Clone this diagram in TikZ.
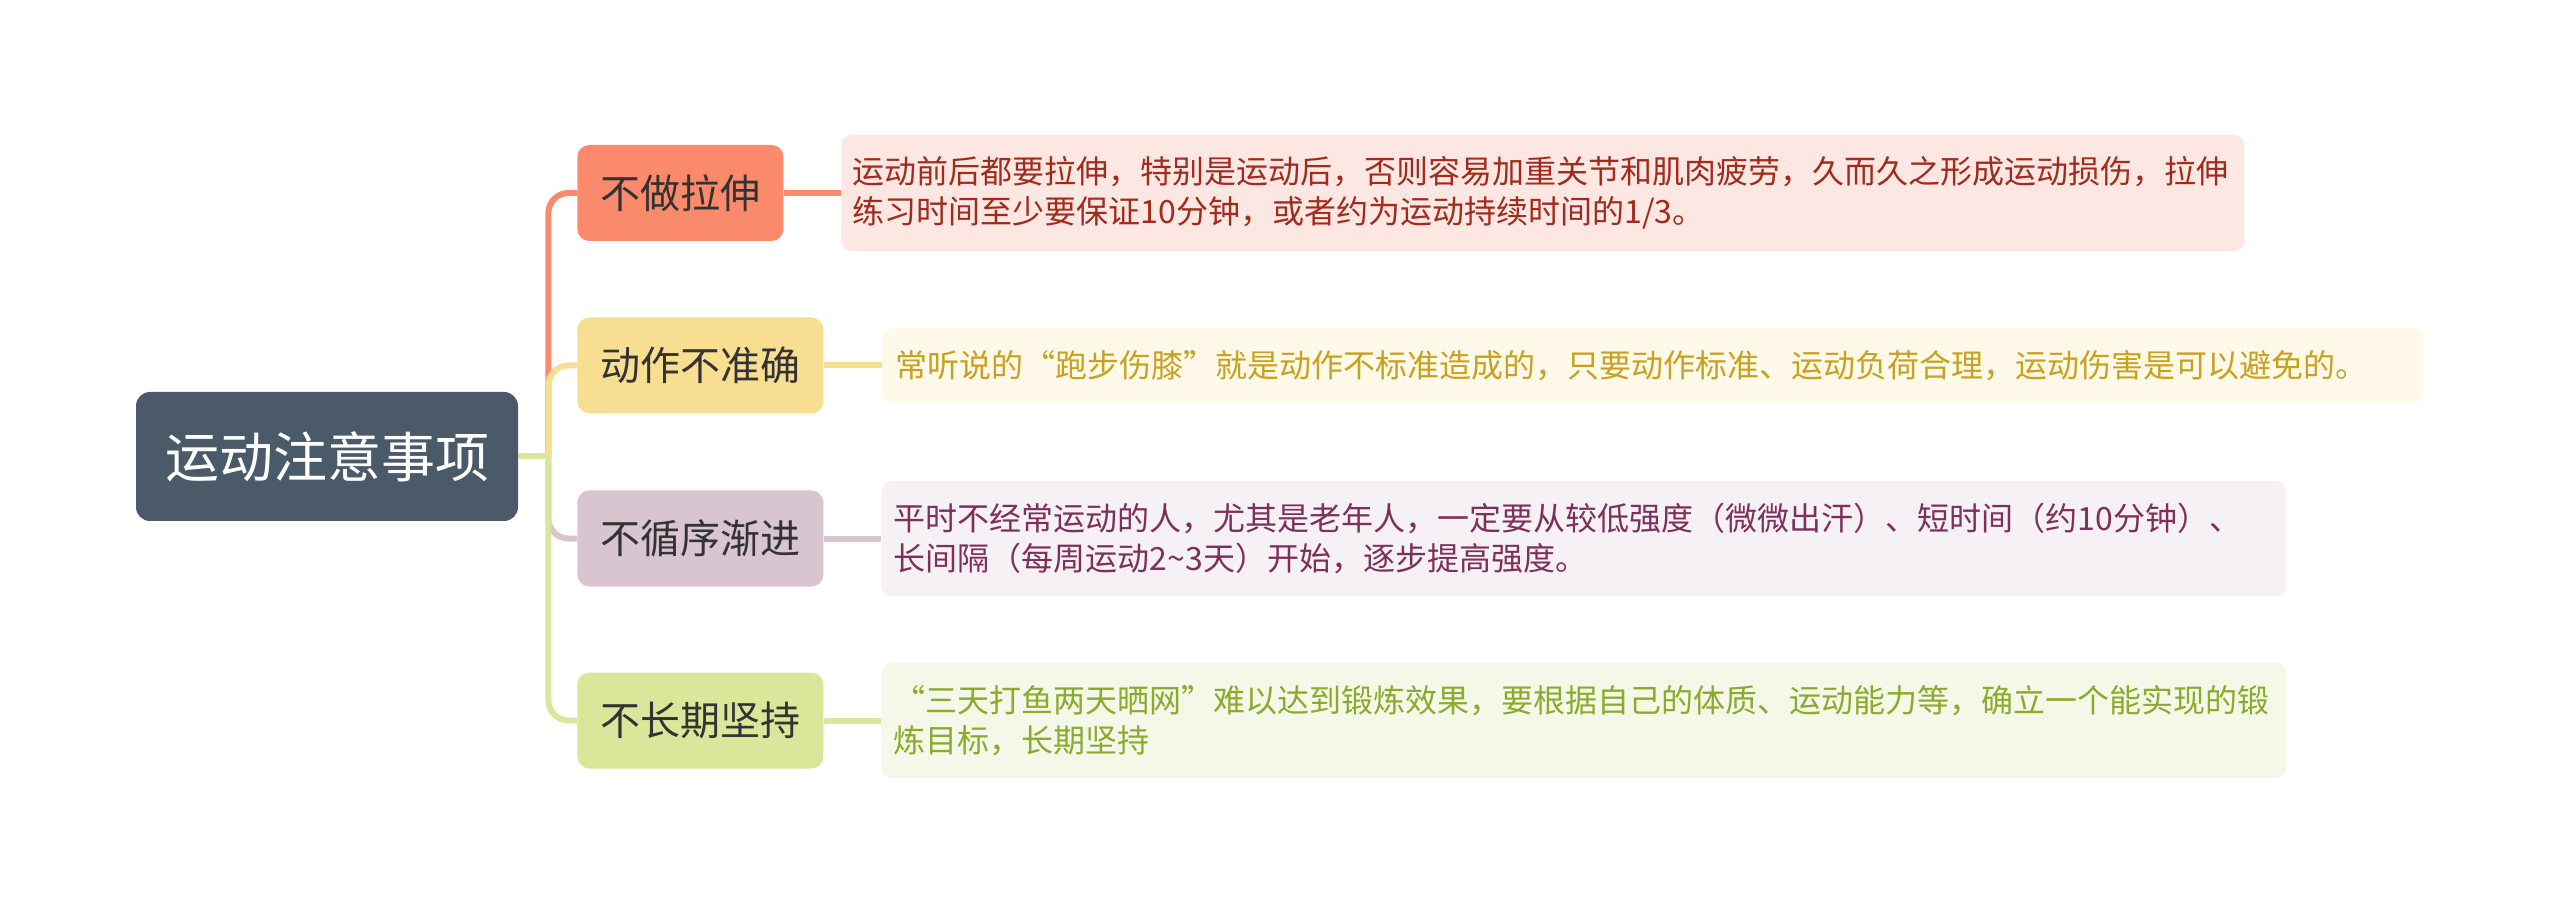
\documentclass[tikz,border=0pt]{standalone}
\usepackage{fontspec}
\newfontfamily\cjk{Noto Sans CJK SC}
\newfontfamily\cjkfull[CharacterWidth=Full]{Noto Sans CJK SC}
\newcommand{\lquo}{{\cjkfull “}}
\newcommand{\rquo}{{\cjkfull ”}}

\definecolor{rootfill}{HTML}{4B5A69}
\definecolor{topictext}{HTML}{333333}
\definecolor{topic1}{HTML}{FA8A6B}
\definecolor{topic2}{HTML}{F7DE90}
\definecolor{topic3}{HTML}{D9C5CF}
\definecolor{topic4}{HTML}{D9E79B}
\definecolor{note1}{HTML}{FDE7E2}
\definecolor{note2}{HTML}{FEF9E8}
\definecolor{note3}{HTML}{F6F1F4}
\definecolor{note4}{HTML}{F5F8E9}
\definecolor{ink1}{HTML}{A12B1C}
\definecolor{ink2}{HTML}{C9A11F}
\definecolor{ink3}{HTML}{7E2F5B}
\definecolor{ink4}{HTML}{8CAA2B}

\tikzstyle{rootbox}=[rounded corners=7pt, fill=rootfill, text=white, minimum width=191pt, minimum height=64.5pt, font=\cjk\fontsize{27pt}{32pt}\selectfont]
\tikzstyle{topicbox}=[rounded corners=6pt, anchor=west, text=topictext, inner xsep=11.5pt, minimum height=48pt, font=\cjk\fontsize{20pt}{24pt}\selectfont]
\tikzstyle{notebox}=[rounded corners=5pt, anchor=west, align=left, inner ysep=4pt, font=\cjk\fontsize{16pt}{20pt}\selectfont]
\tikzstyle{branchline}=[line width=3pt]

\begin{document}
\begin{tikzpicture}[x=0.5pt,y=-0.5pt]
	\useasboundingbox (0,0) rectangle (2560,914);
	% centre and topics
	\node[rootbox] (root) at (327,456.5) {运动注意事项};
	\node[topicbox, fill=topic1] (t1) at (577,193) {不做拉伸};
	\node[topicbox, fill=topic2] (t2) at (577,365.5) {动作不准确};
	\node[topicbox, fill=topic3] (t3) at (577,538.5) {不循序渐进};
	\node[topicbox, fill=topic4] (t4) at (577,720.5) {不长期坚持};
	% notes
	\node[notebox, fill=note1, text=ink1, text width=690pt, inner xsep=5.75pt, minimum height=58pt] (n1) at (841,193) {运动前后都要拉伸，特别是运动后，否则容易加重关节和肌肉疲劳，久而久之形成运动损伤，拉伸\\练习时间至少要保证10分钟，或者约为运动持续时间的1/3。};
	\node[notebox, fill=note2, text=ink2, text width=757pt, inner xsep=6.75pt, minimum height=37.5pt] (n2) at (882,365.5) {常听说的\lquo 跑步伤膝\rquo 就是动作不标准造成的，只要动作标准、运动负荷合理，运动伤害是可以避免的。};
	\node[notebox, fill=note3, text=ink3, text width=690pt, inner xsep=6.25pt, minimum height=57.5pt] (n3) at (881,538.5) {平时不经常运动的人，尤其是老年人，一定要从较低强度（微微出汗）、短时间（约10分钟）、\\长间隔（每周运动2\string~3天）开始，逐步提高强度。};
	\node[notebox, fill=note4, text=ink4, text width=690pt, inner xsep=6.25pt, minimum height=57.5pt] (n4) at (881,720.5) {\lquo 三天打鱼两天晒网\rquo 难以达到锻炼效果，要根据自己的体质、运动能力等，确立一个能实现的锻\\炼目标，长期坚持};

	\coordinate (jn) at ([xshift=15pt]root.east);
	\foreach \i in {1,2,3,4} {
		\draw[branchline, draw=topic\i] (root.east) -- (jn);
		\draw[branchline, draw=topic\i, rounded corners=10pt] (jn) |- (t\i.west);
		\draw[branchline, draw=topic\i] (t\i.east) -- (n\i.west);
	}
\end{tikzpicture}
\end{document}
